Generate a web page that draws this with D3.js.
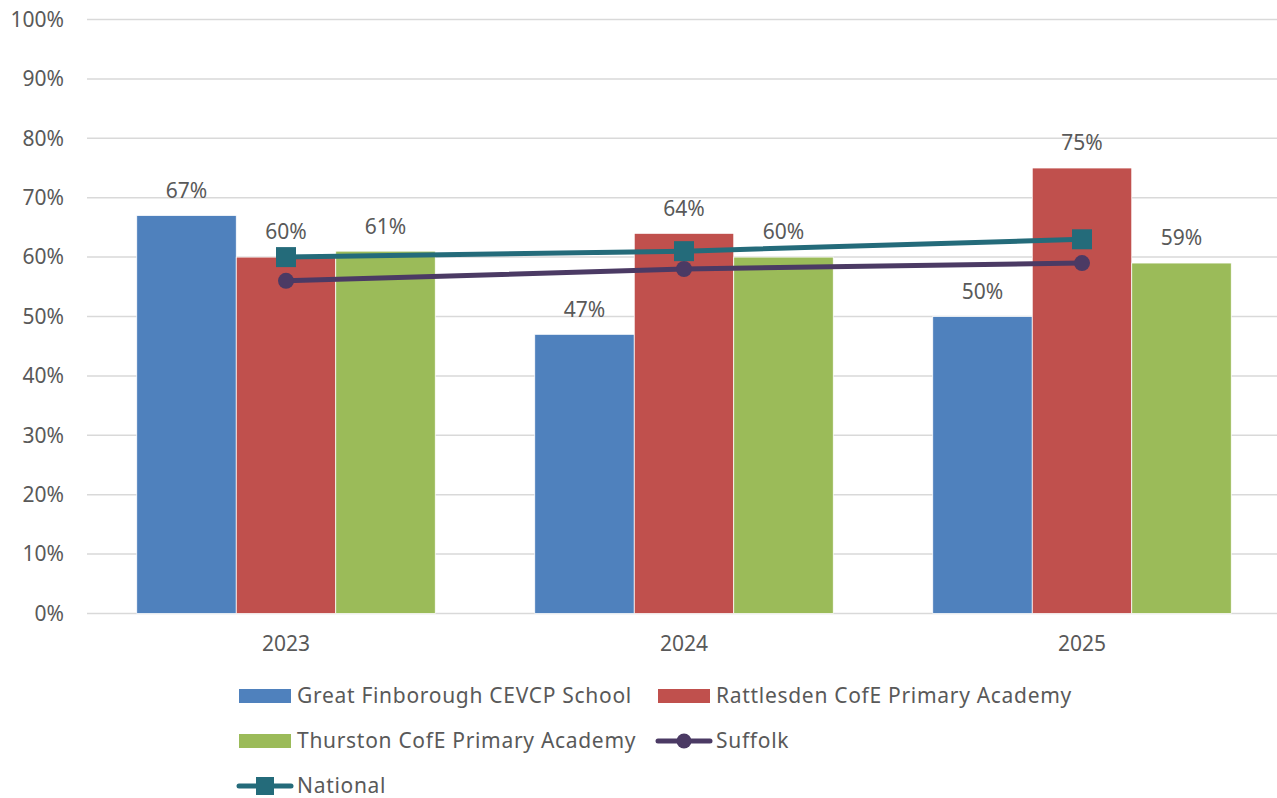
<!DOCTYPE html>
<html>
<head>
<meta charset="utf-8">
<script src="https://cdn.jsdelivr.net/npm/d3@7"></script>
<style>
  body { margin: 0; background: #fff; }
  svg { display: block; font-family: "Noto Sans", sans-serif; }
</style>
</head>
<body>
<svg id="chart"></svg>
<script>
// chart data
var years = ["2023", "2024", "2025"]
var barSeries = ["Great Finborough CEVCP School", "Rattlesden CofE Primary Academy", "Thurston CofE Primary Academy"]
var greatFinborough = [67, 47, 50]
var rattlesden = [60, 64, 75]
var thurston = [61, 60, 59]
var suffolk = [56, 58, 59]
var national = [60, 61, 63]
var yTicks = [0, 10, 20, 30, 40, 50, 60, 70, 80, 90, 100]

var barColors = ["#4F81BD", "#C0504D", "#9BBB59"]
var suffolkColor = "#4B3A64"
var nationalColor = "#246B7A"
var textColor = "#595959"

var screen = {width: 1277, height: 798}
var plot = {left: 87, right: 1281, top: 19.5, bottom: 613.5}

var svg = d3.select("#chart")
    .attr("width", screen.width)
    .attr("height", screen.height)

var x0 = d3.scaleBand()
    .domain(years)
    .range([plot.left, plot.right])

var x1 = d3.scaleBand()
    .domain(barSeries)
    .range([0, x0.bandwidth()])
    .paddingOuter(0.5)

var y = d3.scaleLinear()
    .domain([0, 100])
    .range([plot.bottom, plot.top])

// gridlines
svg.append("g")
    .selectAll("line")
    .data(yTicks)
    .enter()
    .append("line")
    .attr("x1", plot.left)
    .attr("x2", plot.right)
    .attr("y1", function(d) { return y(d) })
    .attr("y2", function(d) { return y(d) })
    .attr("stroke", "#D9D9D9")
    .attr("stroke-width", 1.5)

// y labels
svg.append("g")
    .selectAll("text")
    .data(yTicks)
    .enter()
    .append("text")
    .attr("x", 64)
    .attr("y", function(d) { return y(d) })
    .attr("dy", "0.35em")
    .attr("text-anchor", "end")
    .attr("fill", textColor)
    .attr("font-size", 21)
    .text(function(d) { return d + "%" })

// x labels
svg.append("g")
    .selectAll("text")
    .data(years)
    .enter()
    .append("text")
    .attr("x", function(d) { return x0(d) + x0.bandwidth() / 2 })
    .attr("y", 644)
    .attr("dy", "0.35em")
    .attr("text-anchor", "middle")
    .attr("fill", textColor)
    .attr("font-size", 21)
    .text(function(d) { return d })

// bars
var barValues = [greatFinborough, rattlesden, thurston]
var bars = []
barSeries.forEach(function(s, i) {
    years.forEach(function(yr, j) {
        bars.push({series: s, year: yr, value: barValues[i][j], color: barColors[i]})
    })
})

svg.append("g")
    .selectAll("rect")
    .data(bars)
    .enter()
    .append("rect")
    .attr("x", function(d) { return x0(d.year) + x1(d.series) })
    .attr("y", function(d) { return y(d.value) })
    .attr("width", x1.bandwidth())
    .attr("height", function(d) { return y(0) - y(d.value) })
    .attr("fill", function(d) { return d.color })
    .attr("stroke", "#fff")
    .attr("stroke-width", 0.75)

svg.append("g")
    .selectAll("text")
    .data(bars)
    .enter()
    .append("text")
    .attr("x", function(d) { return x0(d.year) + x1(d.series) + x1.bandwidth() / 2 })
    .attr("y", function(d) { return y(d.value) - 25 })
    .attr("dy", "0.35em")
    .attr("text-anchor", "middle")
    .attr("fill", textColor)
    .attr("font-size", 21)
    .text(function(d) { return d.value + "%" })

// lines
var cx = function(d, i) { return x0(years[i]) + x0.bandwidth() / 2 }
var line = d3.line()
    .x(function(d, i) { return cx(d, i) })
    .y(function(d) { return y(d) })

svg.append("path")
    .datum(suffolk)
    .attr("d", line)
    .attr("fill", "none")
    .attr("stroke", suffolkColor)
    .attr("stroke-width", 5)
    .attr("stroke-linecap", "round")

svg.append("g")
    .selectAll("circle")
    .data(suffolk)
    .enter()
    .append("circle")
    .attr("cx", cx)
    .attr("cy", function(d) { return y(d) })
    .attr("r", 8)
    .attr("fill", suffolkColor)

svg.append("path")
    .datum(national)
    .attr("d", line)
    .attr("fill", "none")
    .attr("stroke", nationalColor)
    .attr("stroke-width", 5)
    .attr("stroke-linecap", "round")

svg.append("g")
    .selectAll("rect")
    .data(national)
    .enter()
    .append("rect")
    .attr("x", function(d, i) { return cx(d, i) - 10 })
    .attr("y", function(d) { return y(d) - 10 })
    .attr("width", 20)
    .attr("height", 20)
    .attr("fill", nationalColor)

// legend
var legendItems = [
    {name: barSeries[0], type: "bar", color: barColors[0], x: 239, y: 696},
    {name: barSeries[1], type: "bar", color: barColors[1], x: 658, y: 696},
    {name: barSeries[2], type: "bar", color: barColors[2], x: 239, y: 741},
    {name: "Suffolk", type: "circle", color: suffolkColor, x: 658, y: 741},
    {name: "National", type: "square", color: nationalColor, x: 239, y: 786}
]

var legend = svg.append("g")
    .selectAll("g")
    .data(legendItems)
    .enter()
    .append("g")
    .attr("transform", function(d) { return "translate(" + d.x + "," + d.y + ")" })

legend.filter(function(d) { return d.type == "bar" })
    .append("rect")
    .attr("x", 0)
    .attr("y", -7)
    .attr("width", 52)
    .attr("height", 14)
    .attr("fill", function(d) { return d.color })

legend.filter(function(d) { return d.type != "bar" })
    .append("line")
    .attr("x1", 0)
    .attr("x2", 52)
    .attr("stroke", function(d) { return d.color })
    .attr("stroke-width", 5)
    .attr("stroke-linecap", "round")

legend.filter(function(d) { return d.type == "circle" })
    .append("circle")
    .attr("cx", 26)
    .attr("r", 7.5)
    .attr("fill", function(d) { return d.color })

legend.filter(function(d) { return d.type == "square" })
    .append("rect")
    .attr("x", 17)
    .attr("y", -9)
    .attr("width", 18)
    .attr("height", 18)
    .attr("fill", function(d) { return d.color })

legend.append("text")
    .attr("x", 58)
    .attr("dy", "0.35em")
    .attr("fill", textColor)
    .attr("font-size", 21)
    .attr("letter-spacing", 0.7)
    .text(function(d) { return d.name })
</script>
</body>
</html>
